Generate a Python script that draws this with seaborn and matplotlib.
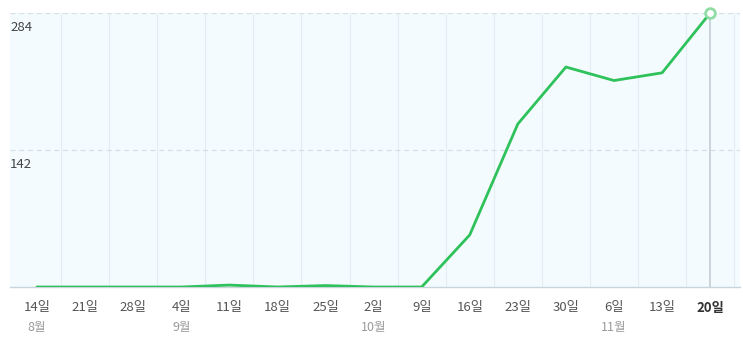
import matplotlib
matplotlib.use("Agg")
import matplotlib.pyplot as plt
import matplotlib.transforms as mtransforms
import seaborn as sns
import pandas as pd

days = ["14일", "21일", "28일", "4일", "11일", "18일", "25일", "2일",
        "9일", "16일", "23일", "30일", "6일", "13일", "20일"]
values = [0, 0, 0, 0, 2, 0, 1.5, 0, 0, 54, 169, 228, 214, 222, 284]
months = ["8월", "9월", "10월", "11월"]
month_pos = ["14일", "4일", "2일", "6일"]
ytick_vals = [142, 284]

sns.set_theme(style="white")
plt.rcParams['font.family'] = ['Noto Sans CJK KR', 'DejaVu Sans']

df = pd.DataFrame({"idx": range(len(days)), "day": days, "value": values})

fig = plt.figure(figsize=(7.43, 3.52), dpi=100)
ax = fig.add_axes([10/743, (352-287)/352, 730/743, 274/352])
ax.set_facecolor("#f3fbfe")

n = len(days)
ax.set_xlim(-0.56, n - 1 + 0.62)
ax.set_ylim(0, 284)

# vertical faint gridlines between points
for i in range(n):
    ax.axvline(i + 0.5, color="#e3eef3", lw=0.8, zorder=0)
# horizontal dashed gridlines
for v in ytick_vals:
    ax.axhline(v, color="#d5e0e6", lw=0.9, ls=(0, (4, 3)), zorder=1)
# cursor line at last point
ax.axvline(n - 1, color="#c4ced4", lw=1.2, zorder=1)

sns.lineplot(data=df, x="idx", y="value", ax=ax, color="#2fc25b", lw=2.0,
             zorder=3, legend=False)
ax.plot([n - 1], [values[-1]], marker="o", ms=7, mfc="white",
        mec="#8fdca5", mew=2, zorder=4, clip_on=False)

for s in ["top", "right", "left"]:
    ax.spines[s].set_visible(False)
ax.spines["bottom"].set_color("#c8d4dc")
ax.spines["bottom"].set_linewidth(1.0)

ax.set_yticks([])
ax.set_xticks(range(n))
ax.set_xticklabels(days, fontsize=9.5, color="#555555")
ax.tick_params(axis="x", length=0, pad=10)
lbls = ax.get_xticklabels()
lbls[-1].set_fontweight("bold")
lbls[-1].set_color("#333333")
ax.set_xlabel("")
ax.set_ylabel("")

trans = mtransforms.blended_transform_factory(ax.transAxes, ax.transData)
ytrans = mtransforms.offset_copy(trans, fig=fig, x=0, y=-6, units="points")
for v in ytick_vals:
    ax.text(0.0, v, str(v), transform=ytrans, fontsize=9.5, color="#444444",
            ha="left", va="top")

mtrans = mtransforms.blended_transform_factory(ax.transData, fig.transFigure)
for m, p in zip(months, month_pos):
    ax.text(days.index(p), (352 - 327) / 352, m, transform=mtrans, fontsize=9,
            color="#9a9a9a", ha="center", va="center")

fig.savefig("out.png", dpi=100)
